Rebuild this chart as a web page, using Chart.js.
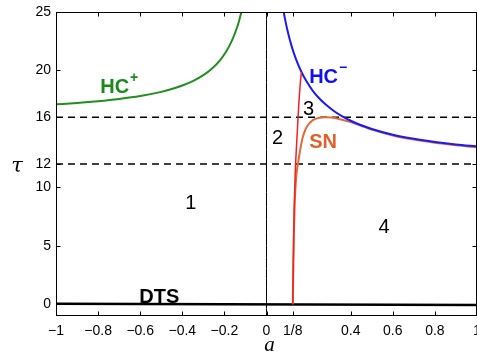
<!DOCTYPE html>
<html>
<head>
<meta charset="utf-8">
<script src="https://cdn.jsdelivr.net/npm/chart.js@4/dist/chart.umd.min.js"></script>
<style>
  html, body { margin: 0; padding: 0; background: #fff; }
</style>
</head>
<body>
<canvas id="c" width="477" height="353"></canvas>
<script>
// Axis ticks
const xTickValues = [-1, -0.8, -0.6, -0.4, -0.2, 0, 0.125, 0.4, 0.6, 0.8, 1];
const xTickLabels = ['\u22121', '\u22120.8', '\u22120.6', '\u22120.4', '\u22120.2', '0', '1/8', '0.4', '0.6', '0.8', '1'];
const yTickValues = [0, 5, 10, 12, 16, 20, 25];
const yTickLabels = ['0', '5', '10', '12', '16', '20', '25'];

// HC+ branch (a < 0)
const hcPlusA   = [-1, -0.9, -0.8, -0.7, -0.6, -0.5, -0.45, -0.4, -0.35, -0.3, -0.26, -0.22, -0.19, -0.16, -0.14, -0.13, -0.12];
const hcPlusTau = [17.1, 17.22, 17.37, 17.56, 17.81, 18.17, 18.41, 18.71, 19.09, 19.6, 20.15, 20.89, 21.66, 22.72, 23.67, 24.26, 24.95];

// HC- branch (a > 0)
const hcMinusA   = [0.07, 0.08, 0.09, 0.1, 0.12, 0.14, 0.166, 0.19, 0.22, 0.25, 0.28, 0.32, 0.36, 0.4, 0.45, 0.5, 0.6, 0.7, 0.8, 0.9, 1.0];
const hcMinusTau = [26.28, 25.17, 24.22, 23.4, 22.04, 20.97, 19.87, 19.07, 18.26, 17.62, 17.1, 16.53, 16.07, 15.7, 15.31, 15.0, 14.51, 14.16, 13.89, 13.67, 13.5];

// Saddle-node curve
const snA   = [0.125, 0.1265, 0.128, 0.13, 0.133, 0.137, 0.143, 0.15, 0.16, 0.171, 0.185, 0.2, 0.22, 0.25, 0.28, 0.31, 0.35, 0.4, 0.45, 0.5, 0.6, 0.7, 0.8, 0.9, 1.0];
const snTau = [0, 2, 4, 6, 8, 9.8, 11.2, 12.1, 13.2, 14.2, 14.95, 15.4, 15.75, 15.95, 16.0, 15.97, 15.82, 15.58, 15.27, 14.94, 14.44, 14.09, 13.82, 13.6, 13.43];

// Red boundary from a = 1/8 up to HC-
const redA   = [0.125, 0.127, 0.129, 0.132, 0.136, 0.141, 0.147, 0.153, 0.16, 0.166];
const redTau = [0, 3, 5.5, 8.5, 11, 13, 15, 17, 18.8, 19.87];

// DTS line near tau = 0
const dtsA   = [-1, 1];
const dtsTau = [0.05, -0.05];

// Reference levels
const dashA = [-1, 1];
const dashLevels = [16, 12];
const axisLineA = [0, 0];
const axisLineTau = [-1, 25];

const pts = (xs, ys) => xs.map((v, i) => ({ x: v, y: ys[i] }));

// Text annotations placed in data coordinates
const curveLabels = [
  { text: 'HC', sup: '+', a: -0.79, tau: 18.1, color: '#1a8a1a' },
  { text: 'HC', sup: '\u2212', a: 0.2025, tau: 18.95, color: '#1010f0' },
  { text: 'SN', sup: '', a: 0.2025, tau: 13.38, color: '#e0602a' },
  { text: 'DTS', sup: '', a: -0.604, tau: 0.1, color: '#000' }
];
const regionLabels = [
  { text: '1', a: -0.359, tau: 8.66 },
  { text: '2', a: 0.052, tau: 14.15 },
  { text: '3', a: 0.2, tau: 16.7 },
  { text: '4', a: 0.558, tau: 6.6 }
];

const framePlugin = {
  id: 'frame',
  afterDatasetsDraw(chart) {
    const { ctx, chartArea: ca, scales: { x, y } } = chart;
    ctx.save();
    ctx.strokeStyle = '#000';
    ctx.lineWidth = 1;
    const L = Math.round(ca.left) + 0.5, R = Math.round(ca.right) - 0.5;
    const T = Math.round(ca.top) + 0.5, B = Math.round(ca.bottom) - 0.5;
    ctx.strokeRect(L, T, R - L, B - T);
    const len = 4;
    ctx.beginPath();
    x.ticks.forEach(t => {
      const px = Math.round(x.getPixelForValue(t.value)) + 0.5;
      ctx.moveTo(px, B); ctx.lineTo(px, B - len);
      ctx.moveTo(px, T); ctx.lineTo(px, T + len);
    });
    y.ticks.forEach(t => {
      const py = Math.round(y.getPixelForValue(t.value)) + 0.5;
      ctx.moveTo(L, py); ctx.lineTo(L + len, py);
      ctx.moveTo(R, py); ctx.lineTo(R - len, py);
    });
    ctx.stroke();

    // curve names
    ctx.textBaseline = 'alphabetic';
    ctx.textAlign = 'left';
    curveLabels.forEach(l => {
      const px = x.getPixelForValue(l.a), py = y.getPixelForValue(l.tau);
      ctx.fillStyle = l.color;
      ctx.font = 'bold 20px "Liberation Sans", Arial, sans-serif';
      ctx.fillText(l.text, px, py);
      if (l.sup) {
        const w = ctx.measureText(l.text).width;
        ctx.font = 'bold 14px "Liberation Sans", Arial, sans-serif';
        ctx.fillText(l.sup, px + w + 1, py - 11);
      }
    });

    // region numbers
    ctx.fillStyle = '#000';
    ctx.textAlign = 'center';
    ctx.textBaseline = 'middle';
    ctx.font = '20px "Liberation Sans", Arial, sans-serif';
    regionLabels.forEach(l => {
      ctx.fillText(l.text, x.getPixelForValue(l.a), y.getPixelForValue(l.tau));
    });

    // axis titles
    ctx.font = 'italic 21px "DejaVu Serif", "Liberation Serif", serif';
    ctx.fillText('\u03C4', ca.left - 39, (ca.top + ca.bottom) / 2 + 3);
    ctx.font = 'italic 21px "Liberation Serif", "DejaVu Serif", serif';
    ctx.fillText('a', x.getPixelForValue(0) + 3, ca.bottom + 29);
    ctx.restore();
  }
};

const lineDs = (data, color, width, extra) => Object.assign({
  data, borderColor: color, borderWidth: width, showLine: true,
  pointRadius: 0, fill: false, cubicInterpolationMode: 'monotone'
}, extra || {});

const datasets = [
  lineDs(pts(redA, redTau), '#f02020', 1.5),
  lineDs(pts(hcMinusA, hcMinusTau), '#1a1af5', 2),
  lineDs(pts(snA, snTau), '#e06a3a', 2),
  lineDs(pts(hcPlusA, hcPlusTau), '#1f8f1f', 2),
  lineDs(pts(dtsA, dtsTau), '#000', 2.5),
  lineDs(pts(axisLineA, axisLineTau), '#000', 1),
  ...dashLevels.map(v => lineDs(pts(dashA, dashA.map(() => v)), '#000', 1.3, { borderDash: [7, 5] }))
];

Chart.defaults.font.family = '"Liberation Sans", Arial, sans-serif';
Chart.defaults.font.size = 14;
Chart.defaults.color = '#000';

new Chart(document.getElementById('c'), {
  type: 'scatter',
  data: { datasets },
  options: {
    responsive: false,
    animation: false,
    devicePixelRatio: 1,
    layout: { padding: { top: 12, right: -1, left: 0, bottom: 0 } },
    plugins: { legend: { display: false }, tooltip: { enabled: false } },
    scales: {
      x: {
        type: 'linear', min: -1, max: 1,
        grid: { display: false, drawTicks: false },
        border: { display: false },
        afterBuildTicks: s => { s.ticks = xTickValues.map(v => ({ value: v })); },
        ticks: {
          padding: 7, maxRotation: 0, autoSkip: false,
          callback: (v, i) => xTickLabels[i]
        },
        afterFit: s => { s.height = 37; s.paddingLeft = 0; s.paddingRight = 0; }
      },
      y: {
        type: 'linear', min: -1, max: 25,
        grid: { display: false, drawTicks: false },
        border: { display: false },
        afterBuildTicks: s => { s.ticks = yTickValues.map(v => ({ value: v })); },
        ticks: {
          padding: 5, autoSkip: false,
          callback: (v, i) => yTickLabels[i]
        },
        afterFit: s => { s.width = 56; s.paddingTop = 0; s.paddingBottom = 0; }
      }
    }
  },
  plugins: [framePlugin]
});
</script>
</body>
</html>
